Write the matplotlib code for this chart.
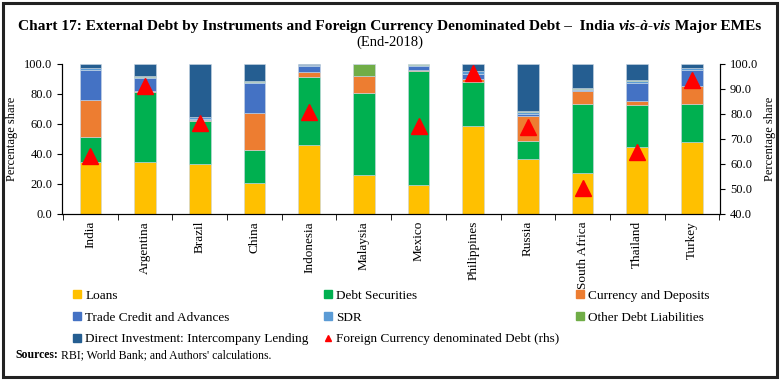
import numpy as np
import matplotlib
matplotlib.use("Agg")
import matplotlib.pyplot as plt
from matplotlib.patches import Rectangle
from matplotlib.lines import Line2D

plt.rcParams['font.family'] = ['Liberation Serif', 'DejaVu Serif']

countries = ["India", "Argentina", "Brazil", "China", "Indonesia", "Malaysia",
             "Mexico", "Philippines", "Russia", "South Africa", "Thailand", "Turkey"]

# shares in per cent (left axis)
loans      = [34.7, 34.9, 33.5, 20.9, 46.2, 26.2, 19.5, 58.9, 36.7, 27.3, 44.4, 47.7]
debt_sec   = [16.8, 46.4, 28.3, 21.5, 45.1, 54.5, 75.6, 28.9, 11.7, 46.0, 28.5, 25.8]
curr_dep   = [24.7, 0.4, 0.5, 24.7, 3.4, 11.0, 1.1, 2.4, 16.7, 8.4, 2.6, 12.0]
trade_cred = [20.0, 9.0, 0.7, 20.2, 3.7, 0.0, 2.2, 3.3, 1.6, 1.2, 11.8, 10.7]
sdr        = [0.7, 0.8, 1.9, 0.7, 0.6, 0.0, 0.9, 1.8, 1.1, 0.4, 1.1, 0.7]
other_debt = [0.3, 0.2, 0.0, 0.9, 0.5, 8.3, 0.7, 0.0, 1.1, 0.4, 1.1, 0.0]
direct_inv = [2.8, 8.3, 35.1, 11.1, 0.5, 0.0, 0.0, 4.7, 31.1, 16.3, 10.5, 3.1]

# foreign currency denominated debt (right axis), Malaysia not shown
fc_debt = [63.0, 91.0, 76.4, np.nan, 80.8, np.nan, 75.0, 96.4, 74.6, 50.4, 64.8, 93.7]

series = [loans, debt_sec, curr_dep, trade_cred, sdr, other_debt, direct_inv]
names = ["Loans", "Debt Securities", "Currency and Deposits",
         "Trade Credit and Advances", "SDR", "Other Debt Liabilities",
         "Direct Investment: Intercompany Lending"]
colors = ["#FFC000", "#00B050", "#ED7D31", "#4472C4", "#5B9BD5", "#70AD47", "#255E91"]

fig = plt.figure(figsize=(7.8, 3.8), dpi=100)
fig.patches.append(Rectangle((0.004, 0.008), 0.992, 0.984, transform=fig.transFigure,
                             fill=False, edgecolor="#222222", linewidth=2.2))

ax = fig.add_axes([0.0795, 0.437, 0.844, 0.395])
x = np.arange(len(countries))
bottom = np.zeros(len(countries))
for vals, c in zip(series, colors):
    vals = np.array(vals)
    ax.bar(x, vals, 0.4, bottom=bottom, color=c, edgecolor="#c9d6e3", linewidth=0.4)
    bottom += vals

ax.set_ylim(0, 100)
ax.set_xlim(-0.52, len(countries) - 0.48)
ax.set_yticks(np.arange(0, 101, 20))
ax.set_yticklabels([f"{v:.1f}" for v in np.arange(0, 101, 20)], fontsize=9)
ax.set_ylabel("Percentage share", fontsize=9)
ax.set_xticks(x)
ax.set_xticklabels(countries, rotation=90, fontsize=9.5)
ax.tick_params(axis="x", length=0, pad=5)
ax.set_xticks(np.arange(-0.5, len(countries), 1), minor=True)
ax.tick_params(axis="x", which="minor", length=4, direction="out")
ax.spines["top"].set_visible(False)

ax2 = ax.twinx()
ax2.plot(x, fc_debt, linestyle="none", marker="^", color="red", markersize=11)
ax2.set_ylim(40, 100)
ax2.set_yticks(np.arange(40, 101, 10))
ax2.set_yticklabels([f"{v:.1f}" for v in np.arange(40, 101, 10)], fontsize=9)
ax2.set_ylabel("Percentage share", fontsize=9)
ax2.spines["top"].set_visible(False)

# title with italic part
fig.canvas.draw()
r = fig.canvas.get_renderer()
parts = [("Chart 17: External Debt by Instruments and Foreign Currency Denominated Debt \u2013  India ", "normal"),
         ("vis-\u00e0-vis", "italic"),
         (" Major EMEs", "normal")]
texts = [fig.text(0, 0.929, p, fontsize=11.1, fontweight="bold", style=s, va="center")
         for p, s in parts]
widths = [t.get_window_extent(r).width / fig.bbox.width for t in texts]
xs = 0.5 - sum(widths) / 2
for t, w in zip(texts, widths):
    t.set_x(xs)
    xs += w
fig.text(0.5, 0.89, "(End-2018)", fontsize=10.5, ha="center", va="center")

# legend: three columns placed separately
handles = [Line2D([], [], linestyle="none", marker="s", markersize=6, color=c) for c in colors]
handles.append(Line2D([], [], linestyle="none", marker="^", markersize=5, color="red"))
labels = names + ["Foreign Currency denominated Debt (rhs)"]
columns = [([0, 3, 6], 0.094), ([1, 4, 7], 0.416), ([2, 5], 0.739)]
for idx, x0 in columns:
    leg = fig.legend([handles[i] for i in idx], [labels[i] for i in idx],
                     loc="upper left", bbox_to_anchor=(x0, 0.238),
                     frameon=False, fontsize=9.5, handlelength=0.6, handletextpad=0.3,
                     labelspacing=0.72, borderaxespad=0, borderpad=0)

src = fig.text(0.02, 0.066, "Sources:", fontsize=8.5, fontweight="bold", va="center")
sw = src.get_window_extent(r).width / fig.bbox.width
fig.text(0.02 + sw + 0.004, 0.066, "RBI; World Bank; and Authors' calculations.",
         fontsize=8.5, va="center")

fig.savefig("out.png", dpi=100)
